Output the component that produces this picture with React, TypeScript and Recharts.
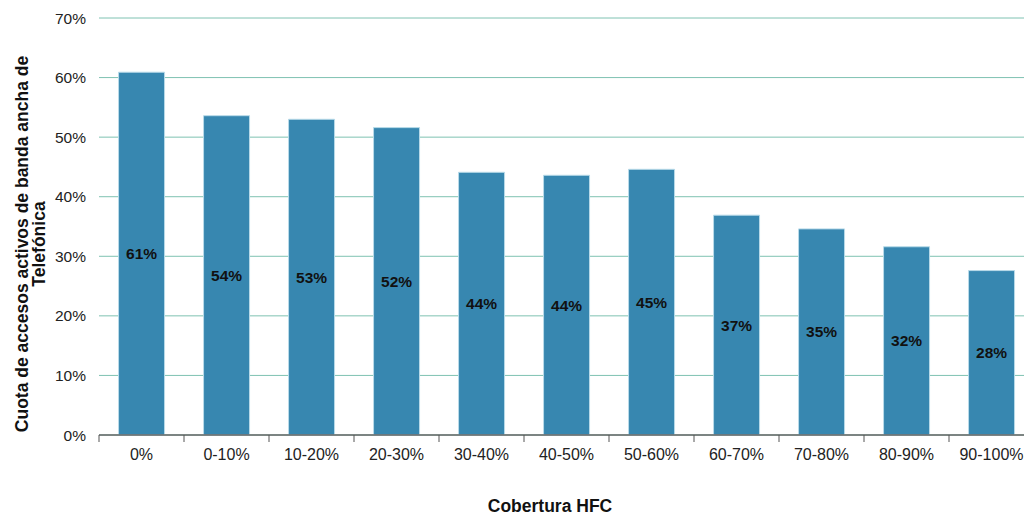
import { BarChart, Bar, XAxis, YAxis, CartesianGrid, LabelList, Label } from 'recharts';

// tramos de cobertura HFC
const categories = ['0%', '0-10%', '10-20%', '20-30%', '30-40%', '40-50%', '50-60%', '60-70%', '70-80%', '80-90%', '90-100%'];
// cuota de Telefónica (%) por tramo
const shares = [60.9, 53.6, 53.0, 51.6, 44.1, 43.6, 44.6, 36.9, 34.6, 31.6, 27.6];
const yTicks = [0, 10, 20, 30, 40, 50, 60, 70];

const data = categories.map((name, i) => ({ name, share: shares[i] }));

const FONT = '"Liberation Sans", Arial, sans-serif';

const XTick = ({ x, y, payload }: any) => {
    const half = payload && payload.offset ? payload.offset : 42.5;
    return (
        <g>
            <line x1={x - half} y1={y - 8} x2={x - half} y2={y - 1} stroke="#555" strokeWidth={1} />
            <text x={x} y={y + 17} textAnchor="middle" fontSize={16} fill="#222" fontFamily={FONT}>
                {payload.value}
            </text>
        </g>
    );
};

const yTitle = () => (
    <g fontFamily={FONT} fontWeight="bold" fontSize={17.5} fill="#111">
        <text transform="translate(28,244) rotate(-90)" textAnchor="middle">
            Cuota de accesos activos de banda ancha de
        </text>
        <text transform="translate(45,244) rotate(-90)" textAnchor="middle">
            Telefónica
        </text>
    </g>
);

const xTitle = () => (
    <text x={550} y={512} textAnchor="middle" fontFamily={FONT} fontWeight="bold" fontSize={17.5} fill="#111">
        Cobertura HFC
    </text>
);

const App = () => {
    return (
        <div style={{ position: 'fixed', left: 0, top: 0, width: 1024, height: 516, overflow: 'hidden', background: '#fff', fontFamily: FONT }}>
            <BarChart width={1040} height={516} data={data} margin={{ top: 18, right: 6, bottom: 0, left: 0 }} barCategoryGap="23%">
                <CartesianGrid vertical={false} stroke="#7fc2b2" strokeWidth={1} />
                <YAxis
                    type="number"
                    domain={[0, 70]}
                    ticks={yTicks}
                    interval={0}
                    width={99}
                    axisLine={false}
                    tickLine={false}
                    tickSize={0}
                    tickMargin={13}
                    tickFormatter={(v: number) => `${v}%`}
                    tick={{ fontSize: 15.5, fill: '#222', fontFamily: FONT }}
                >
                    <Label content={yTitle} />
                </YAxis>
                <XAxis
                    dataKey="name"
                    height={81}
                    interval={0}
                    axisLine={{ stroke: '#666', strokeWidth: 1.5 }}
                    tickLine={false}
                    tick={<XTick />}
                >
                    <Label content={xTitle} />
                </XAxis>
                <Bar dataKey="share" fill="#3787b0" stroke="#b9dbe9" strokeWidth={1} isAnimationActive={false}>
                    <LabelList
                        dataKey="share"
                        position="center"
                        formatter={(v: any) => `${Math.round(Number(v))}%`}
                        style={{ fontSize: 15.5, fontWeight: 'bold', fill: '#111', fontFamily: FONT }}
                    />
                </Bar>
            </BarChart>
        </div>
    );
};

export default App;
